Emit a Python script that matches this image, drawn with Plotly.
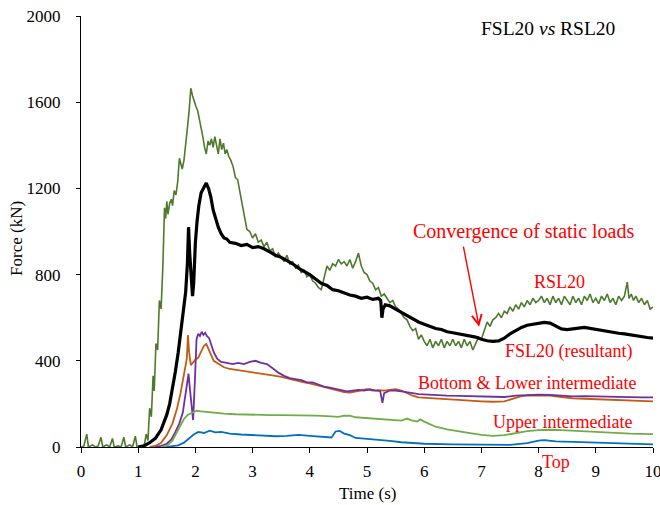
import plotly.graph_objects as go

# ---------------- data ----------------
rsl20_t = [0.00,0.05,0.10,0.13,0.20,0.25,0.30,0.35,0.38,0.45,0.50,0.55,0.58,0.65,0.70,0.75,0.78,0.85,0.90,0.95,0.98,1.05,1.10,
           1.14,1.17,1.20,1.23,1.26,1.28,1.31,1.34,1.37,1.40,1.43,1.46,1.48,1.50,1.52,1.55,1.58,1.60,1.63,1.66,1.69,1.72,1.75,1.77,
           1.80,1.83,1.86,1.89,1.92,1.95,1.98,2.01,2.04,2.07,2.10,2.13,2.16,2.19,2.22,2.25,2.28,2.31,2.34,2.37,2.40,2.43,2.46,2.49,
           2.52,2.55,2.58,2.62,2.66,2.70,2.74,2.78,2.82,2.86,2.90,2.95,3.00,3.05,3.10,3.15,3.20,3.25,3.30,3.35,3.40,3.45,3.50,3.55,
           3.60,3.65,3.70,3.75,3.80,3.85,3.90,3.95,4.00,4.05,4.10,4.15,4.20,4.25,4.30,4.35,4.40,4.45,4.50,4.55,4.60,4.65,4.70,4.75,
           4.80,4.85,4.90,4.95,5.00,5.05,5.10,5.15,5.20,5.25,5.30,5.35,5.40,5.45,5.50,5.55,5.60,5.65,5.70,5.75,5.80,5.85,5.90,5.95,
           6.00,6.05,6.10,6.15,6.20,6.25,6.30,6.35,6.40,6.45,6.50,6.55,6.60,6.65,6.70,6.75,6.80,6.85,6.90,6.95,7.00,7.05,7.10,7.15,
           7.20,7.25,7.30,7.35,7.40,7.45,7.50,7.55,7.60,7.65,7.70,7.75,7.80,7.85,7.90,7.95,8.00,8.05,8.10,8.15,8.20,8.25,8.30,8.35,
           8.40,8.45,8.50,8.55,8.60,8.65,8.70,8.75,8.80,8.85,8.90,8.95,9.00,9.05,9.10,9.15,9.20,9.25,9.30,9.35,9.40,9.45,9.50,9.55,
           9.58,9.62,9.66,9.70,9.75,9.80,9.85,9.90,9.95,10.0]
rsl20_v = [0,5,60,0,10,0,5,45,0,10,0,40,0,5,0,45,0,10,0,50,0,5,0,
           60,30,180,140,330,260,480,450,680,640,830,1110,1060,1140,1080,1130,1150,1120,1190,1170,1230,1340,1310,1290,
           1330,1420,1480,1560,1665,1630,1600,1580,1560,1520,1490,1440,1390,1360,1420,1400,1430,1390,1440,1400,1360,1430,1380,1410,
           1360,1380,1350,1330,1300,1250,1240,1180,1120,1060,1010,1000,970,990,950,960,930,950,910,920,880,900,880,860,
           890,850,860,830,845,810,820,790,800,770,760,740,730,790,840,820,850,840,870,850,860,840,870,830,
           860,900,840,810,800,770,760,730,740,700,710,690,670,680,650,640,620,600,590,560,540,550,500,520,
           490,470,500,460,490,470,500,460,490,470,500,470,490,460,500,470,490,450,480,510,500,540,580,560,
           590,600,620,600,630,620,650,630,660,640,670,650,680,660,690,670,680,700,670,690,660,700,670,690,
           660,700,680,660,700,670,690,660,700,680,710,670,690,665,700,680,710,670,690,660,700,680,700,765,
           690,710,680,700,670,690,660,680,640,650]

fsl20_t = [1.00,1.10,1.20,1.30,1.40,1.50,1.55,1.60,1.65,1.70,1.75,1.80,1.83,1.86,1.88,1.90,1.92,1.95,1.97,2.00,2.03,2.06,2.10,
           2.15,2.19,2.23,2.27,2.31,2.35,2.40,2.45,2.50,2.55,2.60,2.70,2.80,2.90,3.00,3.10,3.20,3.30,3.40,3.50,3.60,3.70,3.80,
           3.90,4.00,4.10,4.20,4.30,4.40,4.50,4.60,4.70,4.80,4.90,5.00,5.10,5.20,5.24,5.26,5.28,5.32,5.40,5.50,5.60,5.70,5.80,
           5.90,6.00,6.10,6.20,6.30,6.40,6.50,6.60,6.70,6.80,6.90,7.00,7.10,7.20,7.30,7.40,7.50,7.60,7.70,7.80,7.90,8.00,8.10,
           8.20,8.30,8.40,8.50,8.60,8.70,8.80,8.90,9.00,9.10,9.20,9.30,9.40,9.50,9.60,9.70,9.80,9.90,10.0]
fsl20_v = [0,5,20,40,80,150,200,270,350,440,540,650,720,850,1020,900,820,700,760,950,1050,1120,1180,
           1210,1225,1200,1160,1100,1060,1020,990,970,965,950,945,935,940,925,930,920,905,890,880,865,850,830,
           815,800,780,760,750,730,725,715,705,700,690,695,685,690,680,600,640,660,655,640,625,610,595,
           580,570,560,550,545,535,530,525,520,515,510,500,493,490,492,505,525,540,555,565,570,575,578,
           575,560,548,545,550,552,555,550,545,540,535,530,528,525,520,515,510,508,505]

bottom_t = [1.30,1.40,1.50,1.58,1.65,1.72,1.78,1.82,1.86,1.88,1.90,1.93,1.96,1.99,2.02,2.05,2.08,2.11,2.14,2.17,2.20,2.24,
            2.28,2.32,2.38,2.45,2.55,2.65,2.75,2.85,2.95,3.05,3.15,3.25,3.35,3.45,3.55,3.65,3.75,3.85,3.95,4.05,4.15,4.25,
            4.35,4.45,4.55,4.65,4.75,4.85,4.95,5.05,5.15,5.23,5.27,5.30,5.40,5.50,5.60,5.70,5.80,5.90,6.00,6.20,6.40,6.60,
            6.80,7.00,7.20,7.40,7.60,7.80,8.00,8.20,8.40,8.60,8.80,9.00,9.20,9.40,9.60,9.80,10.0]
bottom_v = [0,5,15,35,70,110,160,230,320,340,280,200,125,300,500,525,515,535,520,530,515,505,
            470,440,410,395,390,385,390,385,395,400,390,385,365,345,330,320,315,310,300,300,290,280,
            275,270,265,258,262,265,262,268,262,260,205,250,262,262,258,255,250,245,243,240,238,237,
            236,233,232,232,238,242,243,242,238,235,236,234,233,232,231,230,230]

lower_t = [1.20,1.30,1.40,1.50,1.60,1.68,1.74,1.78,1.82,1.85,1.87,1.89,1.92,1.96,2.00,2.05,2.10,2.15,2.19,2.23,2.27,2.32,
           2.40,2.50,2.60,2.70,2.80,2.90,3.00,3.10,3.20,3.30,3.40,3.50,3.60,3.70,3.80,3.90,4.00,4.10,4.20,4.30,4.40,4.50,
           4.60,4.70,4.80,4.90,5.00,5.10,5.20,5.30,5.40,5.50,5.60,5.70,5.80,5.90,6.00,6.20,6.40,6.60,6.80,7.00,7.20,7.40,
           7.55,7.70,7.85,8.00,8.20,8.40,8.60,8.80,9.00,9.20,9.40,9.60,9.80,10.0]
lower_v = [0,5,20,55,110,180,250,310,360,410,520,440,380,395,405,415,440,470,478,450,430,400,
           385,370,362,358,354,350,348,345,340,335,330,325,318,312,306,300,295,288,282,275,268,262,
           255,253,258,262,268,262,264,262,265,268,262,250,238,230,228,225,222,218,215,212,210,212,
           225,236,240,240,238,232,226,224,222,220,218,216,214,212]

upper_t = [1.40,1.50,1.60,1.70,1.80,1.87,1.95,2.02,2.10,2.20,2.30,2.50,2.70,2.90,3.10,3.30,3.50,3.70,3.90,4.10,4.30,4.50,
           4.60,4.70,4.80,5.00,5.20,5.40,5.60,5.70,5.78,5.88,5.93,6.00,6.10,6.20,6.40,6.60,6.80,7.00,7.20,7.40,7.60,7.80,
           8.00,8.20,8.40,8.60,8.80,9.00,9.30,9.60,10.0]
upper_v = [0,5,30,80,130,150,160,168,165,162,158,155,152,150,150,148,148,148,148,146,143,140,
           146,145,138,134,130,126,122,132,124,118,128,118,105,94,82,72,64,56,52,55,66,74,
           78,80,78,75,72,70,66,62,60]

top_t = [1.50,1.60,1.70,1.80,1.90,1.97,2.05,2.15,2.25,2.35,2.45,2.60,2.80,3.00,3.20,3.40,3.60,3.80,4.00,4.20,4.38,4.45,
         4.52,4.60,4.70,4.80,5.00,5.20,5.40,5.60,5.80,6.00,6.50,7.00,7.50,7.80,8.00,8.10,8.30,8.60,9.00,9.50,10.0]
top_v = [0,3,8,20,45,58,70,65,76,68,70,62,58,55,52,50,52,56,52,48,44,72,
         75,62,55,42,38,34,28,22,18,15,12,10,10,18,30,32,26,24,20,15,12]

y_ticks = [0, 400, 800, 1200, 1600, 2000]
x_ticks = list(range(0, 11))

# ---------------- figure ----------------
FONT = "Liberation Serif"
RED = "#FF0000"

fig = go.Figure()
fig.add_trace(go.Scatter(x=rsl20_t, y=rsl20_v, mode="lines", line=dict(color="#4E7A2C", width=1.6), name="RSL20"))
fig.add_trace(go.Scatter(x=fsl20_t, y=fsl20_v, mode="lines", line=dict(color="#000000", width=3.2), name="FSL20 (resultant)"))
fig.add_trace(go.Scatter(x=lower_t, y=lower_v, mode="lines", line=dict(color="#C55A11", width=1.8), name="Lower intermediate"))
fig.add_trace(go.Scatter(x=bottom_t, y=bottom_v, mode="lines", line=dict(color="#7030A0", width=1.8), name="Bottom"))
fig.add_trace(go.Scatter(x=upper_t, y=upper_v, mode="lines", line=dict(color="#70AD47", width=1.8), name="Upper intermediate"))
fig.add_trace(go.Scatter(x=top_t, y=top_v, mode="lines", line=dict(color="#0070C0", width=1.8), name="Top"))

ann = []
ann.append(dict(x=8.16, y=1944, xref="x", yref="y", text="FSL20 <i>vs</i> RSL20", showarrow=False,
                xanchor="center", yanchor="middle", font=dict(family=FONT, size=19.5, color="black")))
ann.append(dict(x=7.74, y=999, xref="x", yref="y", text="Convergence of static loads", showarrow=False,
                xanchor="center", yanchor="middle", font=dict(family=FONT, size=20, color=RED)))
ann.append(dict(x=6.96, y=558, ax=6.68, ay=937, xref="x", yref="y", axref="x", ayref="y", text="",
                showarrow=True, arrowhead=5, arrowsize=1.4, arrowwidth=1.4, arrowcolor=RED, standoff=0))
ann.append(dict(x=8.36, y=767, xref="x", yref="y", text="RSL20", showarrow=False,
                xanchor="center", yanchor="middle", font=dict(family=FONT, size=18, color=RED)))
ann.append(dict(x=8.53, y=442, xref="x", yref="y", text="FSL20 (resultant)", showarrow=False,
                xanchor="center", yanchor="middle", font=dict(family=FONT, size=18, color=RED)))
ann.append(dict(x=7.80, y=298, xref="x", yref="y", text="Bottom &amp; Lower intermediate", showarrow=False,
                xanchor="center", yanchor="middle", font=dict(family=FONT, size=18, color=RED)))
ann.append(dict(x=8.42, y=117, xref="x", yref="y", text="Upper intermediate", showarrow=False,
                xanchor="center", yanchor="middle", font=dict(family=FONT, size=18, color=RED)))
ann.append(dict(x=8.30, y=-0.035, xref="x", yref="paper", text="Top", showarrow=False,
                xanchor="center", yanchor="middle", font=dict(family=FONT, size=18, color=RED)))
ann.append(dict(x=-0.112, y=0.485, xref="paper", yref="paper", text="Force (kN)", textangle=-90, showarrow=False,
                xanchor="center", yanchor="middle", font=dict(family=FONT, size=17, color="black")))
ann.append(dict(x=0.5, y=-0.107, xref="paper", yref="paper", text="Time (s)", showarrow=False,
                xanchor="center", yanchor="middle", font=dict(family=FONT, size=17, color="black")))

fig.update_layout(
    width=660, height=505,
    margin=dict(l=81, r=7, t=16, b=58, autoexpand=False),
    paper_bgcolor="white", plot_bgcolor="white",
    showlegend=False,
    font=dict(family=FONT, size=17, color="black"),
    annotations=ann,
)
fig.update_xaxes(range=[0, 10], tickvals=x_ticks, ticks="outside", ticklen=5, tickcolor="black",
                 showline=True, linecolor="black", linewidth=1, showgrid=False, zeroline=False,
                 tickfont=dict(family=FONT, size=17), ticklabelstandoff=4, automargin=False,
                 ticklabeloverflow="allow")
fig.update_yaxes(range=[0, 2000], tickvals=y_ticks, ticks="outside", ticklen=4, tickcolor="black",
                 showline=True, linecolor="black", linewidth=1, showgrid=False, zeroline=False,
                 tickfont=dict(family=FONT, size=17), ticklabelstandoff=12, automargin=False,
                 ticklabeloverflow="allow")

fig.write_html("out.html", config={"displayModeBar": False},
               post_script="document.body.style.margin='0px';document.body.style.overflow='hidden';")
